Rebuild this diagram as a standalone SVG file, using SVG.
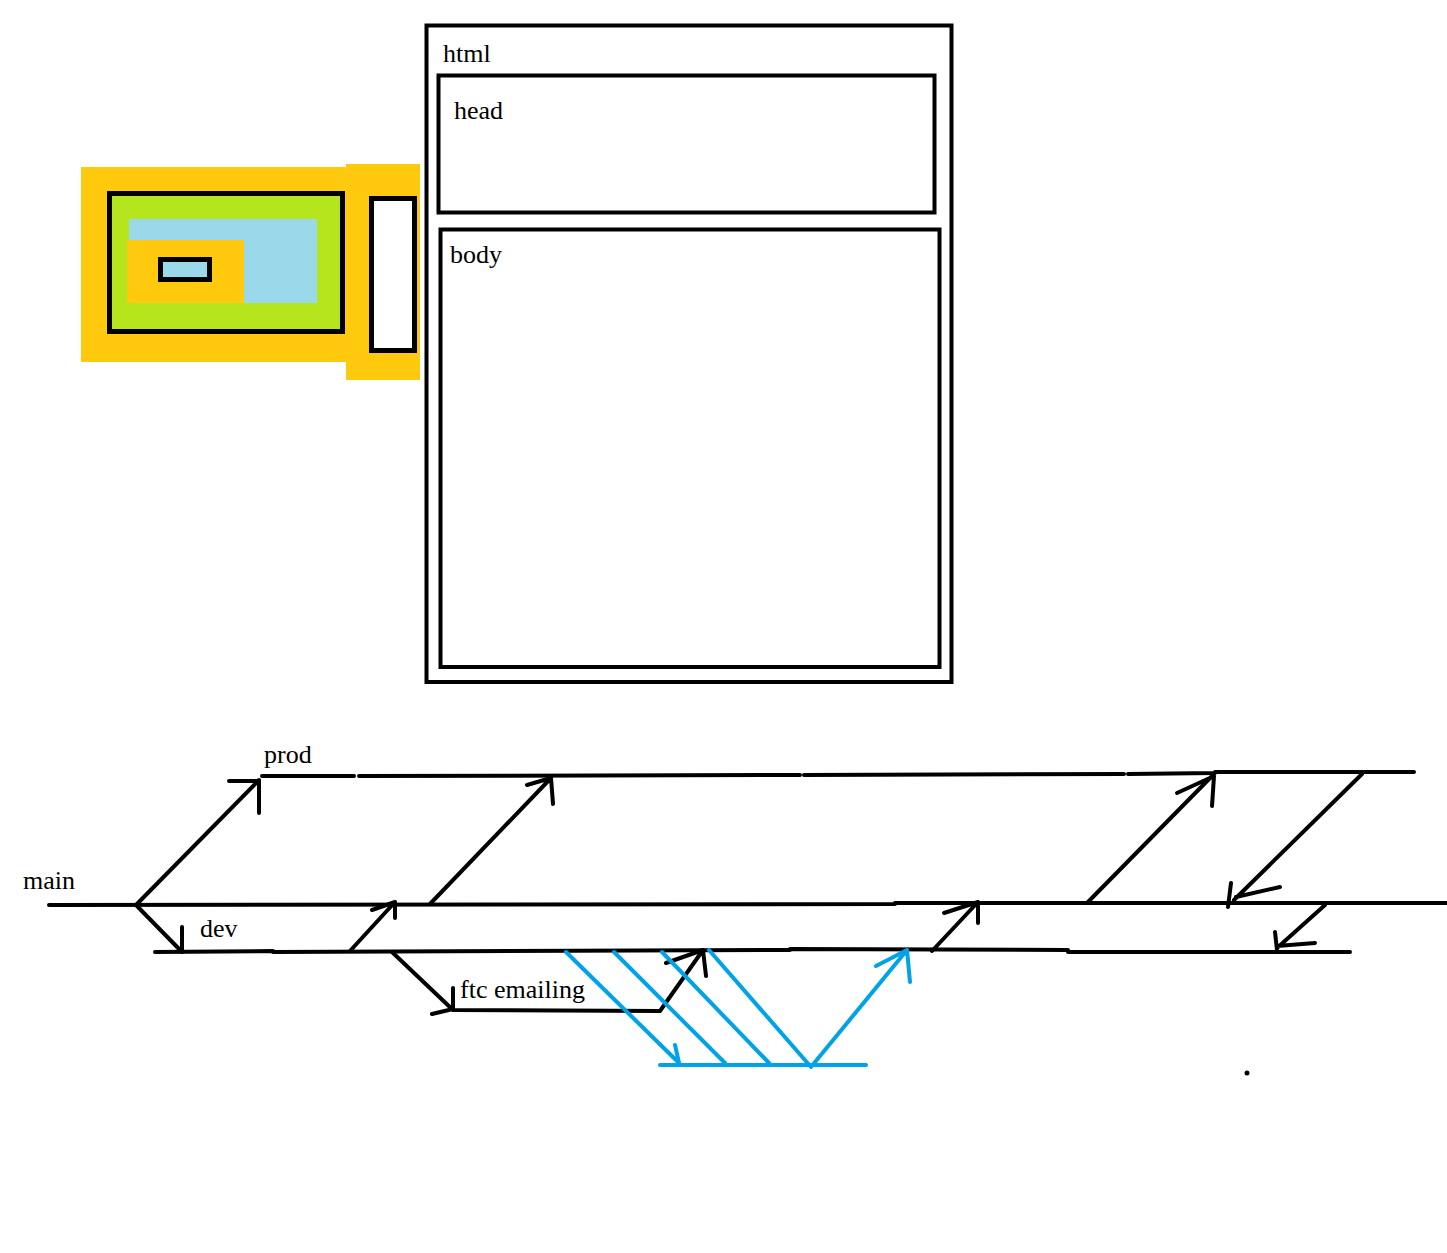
<svg xmlns="http://www.w3.org/2000/svg" width="1447" height="1253" viewBox="0 0 1447 1253">
<style>
.t{font-family:"Liberation Serif","Times New Roman",serif;font-size:26px;fill:#000}
.box{fill:none;stroke:#000;stroke-width:4}
.k{fill:none;stroke:#000;stroke-width:4;stroke-linecap:round;stroke-linejoin:round}
.b{fill:none;stroke:#00A2E8;stroke-width:4;stroke-linecap:round;stroke-linejoin:round}
</style>
<rect width="1447" height="1253" fill="#fff"/>
<g id="widget">
<rect x="81" y="167" width="265" height="195" fill="#FFC90E"/>
<rect x="346" y="164" width="74" height="216" fill="#FFC90E"/>
<rect x="109.5" y="193.5" width="233" height="138" fill="#B5E61D" stroke="#000" stroke-width="5"/>
<rect x="129" y="219" width="188" height="84" fill="#99D9EA"/>
<rect x="127" y="240" width="117" height="63" fill="#FFC90E"/>
<rect x="160.5" y="259.5" width="49" height="20" fill="#99D9EA" stroke="#000" stroke-width="5"/>
<rect x="371.5" y="198.5" width="43" height="152" fill="#fff" stroke="#000" stroke-width="5"/>
</g>
<g id="html">
<rect class="box" x="426.5" y="25.5" width="525" height="656.5"/>
<text class="t" x="443" y="62">html</text>
</g>
<g id="head">
<rect class="box" x="438.5" y="75.5" width="496" height="137"/>
<text class="t" x="454" y="119">head</text>
</g>
<g id="body">
<rect class="box" x="440.5" y="229.5" width="499" height="437.5"/>
<text class="t" x="450" y="263">body</text>
</g>
<g id="labels">
<text class="t" x="264" y="763">prod</text>
<text class="t" x="23" y="889">main</text>
<text class="t" x="200" y="937">dev</text>
<text class="t" x="460" y="998">ftc emailing</text>
</g>
<g id="connectors">
<!-- prod branch -->
<path class="k" d="M262 776H354M359 776L800 775M804 775L1124 774M1128 774L1215 773M1215 772H1414"/>
<!-- main branch -->
<path class="k" d="M49 905L895 904M895 903H1447"/>
<!-- dev branch -->
<path class="k" d="M155 952L273 951M273 952L790 950M790 949L1068 950M1068 952L1350 952"/>
<!-- main to prod -->
<path class="k" d="M136 905L259 780M229 781H259V813"/>
<path class="k" d="M430 904L551 778M527 785L551 778L553 804"/>
<path class="k" d="M1087 903L1214 774M1177 793L1212 777M1214 776L1212 806"/>
<!-- prod to main -->
<path class="k" d="M1362 774L1234 900M1231 883L1228 907M1236 897L1280 887"/>
<!-- main to dev -->
<path class="k" d="M136 905L182 952M182 927V952"/>
<path class="k" d="M1325 905L1277 948M1275 932L1277 950M1277 946L1315 943"/>
<!-- dev to main -->
<path class="k" d="M350 951L395 902M372 910L395 902V918"/>
<path class="k" d="M932 951L978 902M944 913L978 902V923"/>
<!-- ftc emailing -->
<path class="k" d="M392 952L453 1010M453 988V1010M432 1014L453 1009M453 1010L660 1011L703 950M666 963L703 950L706 976"/>
<!-- blue -->
<path class="b" d="M566 952L679 1063M675 1045L679 1063"/>
<path class="b" d="M614 952L725 1063"/>
<path class="b" d="M662 952L769 1063"/>
<path class="b" d="M709 950L811 1067L907 950M876 966L907 950L910 982"/>
<path class="b" d="M660 1065H866"/>
</g>
<circle cx="1247" cy="1073" r="2.5" fill="#000"/>
</svg>
